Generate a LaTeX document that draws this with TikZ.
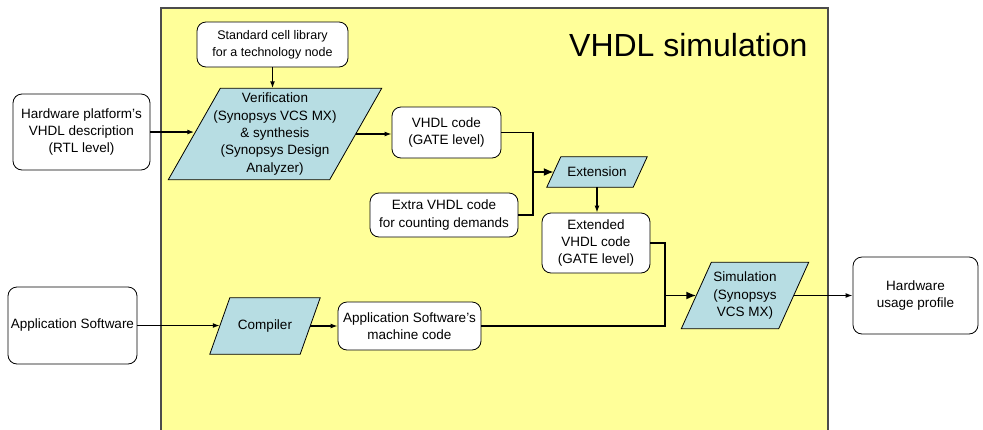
\documentclass[tikz,border=0pt]{standalone}
\usepackage{fontspec}
\setmainfont{Liberation Sans}
\usetikzlibrary{arrows.meta,calc,backgrounds}
\definecolor{panelyellow}{HTML}{FFFF99}
\definecolor{parablue}{HTML}{B7DDE3}
\newcommand\paraframe[2]{%
  \begin{scope}[on background layer]
    \filldraw[parashape] ($(#1.north west)+(#2/2,0)$) -- ($(#1.north east)+(#2/2,0)$) -- ($(#1.south east)-(#2/2,0)$) -- ($(#1.south west)-(#2/2,0)$) -- cycle;
  \end{scope}}
\begin{document}
\begin{tikzpicture}[x=1pt,y=-1pt,
  txt/.style={font=\fontsize{13.5}{17.3}\selectfont},
  box/.style={draw,rounded corners=9pt,fill=white,align=center,inner sep=2pt,line width=0.8pt,txt},
  paranode/.style={align=center,inner sep=0pt,txt},
  parashape/.style={fill=parablue,draw=black,line width=0.8pt},
  wire/.style={line width=1.4pt},
  conn/.style={line width=1.4pt,-{Latex[length=7pt,width=5pt]}},
  bigconn/.style={line width=1.8pt,-{Latex[length=10pt,width=8pt]}}]
\useasboundingbox (0,0) rectangle (983,429);
\begin{scope}[on background layer]
  \filldraw[fill=panelyellow,draw=black!70,line width=1.2pt] (161,8) rectangle (828,445);
\end{scope}
\node[font=\fontsize{32}{36}\selectfont,anchor=east] (title) at (811,45) {VHDL simulation};
% rounded boxes
\node[box,minimum width=151,minimum height=45,font=\fontsize{12.5}{17}\selectfont] (lib) at (272.5,44.5) {Standard cell library\\for a technology node};
\node[box,minimum width=137,minimum height=76] (hw) at (81.5,132) {Hardware platform’s\\VHDL description\\(RTL level)};
\node[box,minimum width=109,minimum height=51] (gate) at (446.5,132.5) {VHDL code\\(GATE level)};
\node[box,minimum width=148,minimum height=44] (extra) at (444,215) {Extra VHDL code\\for counting demands};
\node[box,minimum width=108,minimum height=60] (ext) at (596,243) {Extended\\VHDL code\\(GATE level)};
\node[box,minimum width=129,minimum height=77] (app) at (72.5,325.5) {Application Software};
\node[box,minimum width=143,minimum height=48] (mach) at (409.5,326) {Application Software’s\\machine code};
\node[box,minimum width=125,minimum height=77] (prof) at (915.5,295.5) {Hardware\\usage profile};
% parallelograms
\node[paranode,minimum width=161,minimum height=91] (ver) at (275,134) {Verification\\(Synopsys VCS MX)\\\& synthesis\\(Synopsys Design\\Analyzer)};
\paraframe{ver}{52}
\node[paranode,minimum width=86,minimum height=30] (extn) at (597,172) {Extension};
\paraframe{extn}{14}
\node[paranode,minimum width=90,minimum height=56] (comp) at (265,326) {Compiler};
\paraframe{comp}{20}
\node[paranode,minimum width=97,minimum height=66] (sim) at (745,295.5) {Simulation\\(Synopsys\\VCS MX)};
\paraframe{sim}{30}
% connectors
\coordinate (j1) at (533,172);
\coordinate (j2) at (665,295.5);
\draw[conn] (lib.south) -- (lib.south |- ver.north);
\draw[conn] (hw.east) -- (hw.east -| ver.west);
\draw[conn] (ver.east) -- (ver.east -| gate.west);
\draw[wire] (gate.east) -| (j1);
\draw[wire] (extra.east) -| (j1);
\draw[bigconn] (j1) -- (extn.west);
\draw[conn] (extn.south) -- (extn.south |- ext.north);
\draw[wire] (ext.east) -| (j2);
\draw[wire] (mach.east) -| (j2);
\draw[bigconn] (j2) -- (sim.west);
\draw[conn] (sim.east) -- (sim.east -| prof.west);
\draw[conn] (app.east) -- (app.east -| comp.west);
\draw[conn] (comp.east) -- (comp.east -| mach.west);
\end{tikzpicture}
\end{document}
